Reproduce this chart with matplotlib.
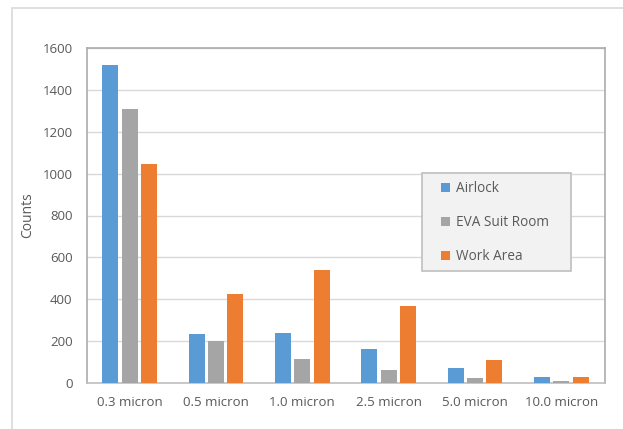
import numpy as np
import matplotlib.pyplot as plt
from matplotlib.patches import Rectangle

plt.rcParams['font.family'] = ['Open Sans', 'DejaVu Sans']

categories = ['0.3 micron', '0.5 micron', '1.0 micron', '2.5 micron', '5.0 micron', '10.0 micron']
series_names = ['Airlock', 'EVA Suit Room', 'Work Area']
airlock = [1520, 233, 241, 163, 72, 30]
eva_suit_room = [1308, 200, 117, 64, 25, 11]
work_area = [1048, 423, 539, 366, 108, 30]
colors = ['#5B9BD5', '#A5A5A5', '#ED7D31']


def make_chart():
	fig = plt.figure(figsize=(6.23, 4.29), dpi=100)
	fig.patch.set_facecolor('white')
	# outer chart border
	fig.patches.append(Rectangle((12 / 623, -0.05), 1.2, 0.05 + 1 - 8 / 429,
		transform=fig.transFigure, fill=False, edgecolor='#D9D9D9', linewidth=1.2))

	ax = fig.add_axes([86.5 / 623, 1 - 383 / 429, (604.5 - 86.5) / 623, (383 - 48) / 429])

	x = np.arange(len(categories))
	width = 0.185
	step = 0.225
	for i, (vals, name) in enumerate(zip([airlock, eva_suit_room, work_area], series_names)):
		ax.bar(x + (i - 1) * step, vals, width, color=colors[i], label=name, zorder=3)

	ax.set_xlim(-0.5, len(categories) - 0.5)
	ax.set_ylim(0, 1600)
	ax.set_yticks(range(0, 1601, 200))
	ax.set_xticks(x)
	ax.set_xticklabels(categories)
	ax.yaxis.grid(True, color='#D9D9D9', linewidth=1, zorder=0)
	ax.tick_params(axis='both', length=0, labelsize=9.5, colors='#595959')
	ax.tick_params(axis='y', pad=10)
	ax.tick_params(axis='x', pad=9)
	for side in ['left', 'top', 'right']:
		ax.spines[side].set_color('#ABABAB')
		ax.spines[side].set_linewidth(1.2)
	ax.spines['bottom'].set_color('#BFBFBF')
	ax.spines['bottom'].set_linewidth(1.2)
	ax.set_ylabel('Counts', fontsize=10, color='#595959', labelpad=5)

	# legend box drawn by hand so the padding matches
	fig.patches.append(Rectangle((422 / 623, 1 - 271.3 / 429), (571 - 422) / 623, (271.3 - 172.7) / 429,
		transform=fig.transFigure, facecolor='#F2F2F2', edgecolor='#BFBFBF', linewidth=1.2, zorder=5))
	leg = fig.legend(loc='upper left', bbox_to_anchor=(441 / 623, 1 - 181 / 429),
		handlelength=0.68, handleheight=0.68, handletextpad=0.45,
		labelspacing=1.4, fontsize=9.8, borderpad=0, borderaxespad=0,
		frameon=False, labelcolor='#595959')
	leg.set_zorder(6)

	fig.savefig('out.png', dpi=100)


if __name__ == "__main__":
	make_chart()
